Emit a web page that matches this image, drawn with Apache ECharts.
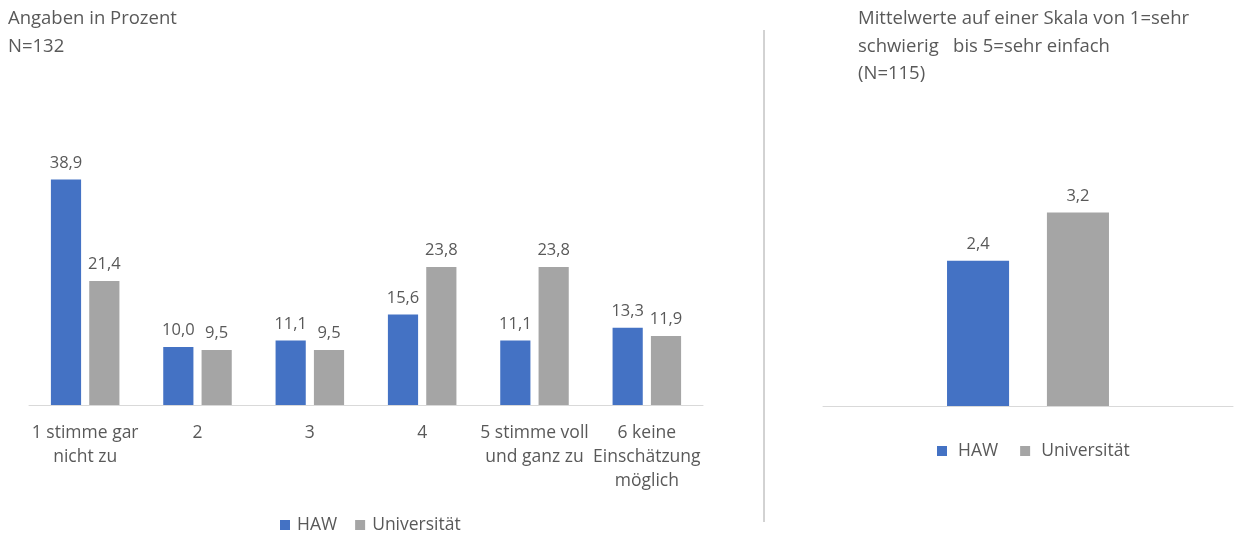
<!DOCTYPE html>
<html>
<head>
<meta charset="utf-8">
<script src="https://cdn.jsdelivr.net/npm/echarts@6/dist/echarts.min.js"></script>
<style>html,body{margin:0;padding:0;background:#fff}#c{width:1236px;height:536px}</style>
</head>
<body>
<div id="c"></div>
<script>
const categories = ["1 stimme gar\nnicht zu", "2", "3", "4", "5 stimme voll\nund ganz zu", "6 keine\nEinschätzung\nmöglich"];
const hawPercent = [38.9, 10.0, 11.1, 15.6, 11.1, 13.3];
const uniPercent = [21.4, 9.5, 9.5, 23.8, 23.8, 11.9];
const meanCategory = ["Mittelwert"];
const hawMean = [2.4];
const uniMean = [3.2];
const seriesNames = ["HAW", "Universität"];
const leftTitle = "Angaben in Prozent\nN=132";
const rightTitle = "Mittelwerte auf einer Skala von 1=sehr\nschwierig   bis 5=sehr einfach\n(N=115)";

const FONT = "Open Sans";
const TXT = "#595959";
const fmt = p => p.value.toFixed(1).replace('.', ',');
const lbl = {show: true, position: 'top', distance: 8, color: TXT, fontFamily: FONT, fontSize: 16.5, formatter: fmt};

const chart = echarts.init(document.getElementById('c'), null, {renderer: 'canvas'});
chart.setOption({
  animation: false,
  color: ['#4472C4', '#A5A5A5'],
  textStyle: {fontFamily: FONT, color: TXT},
  title: [
    {text: leftTitle, left: 3, top: 0, textStyle: {fontFamily: FONT, fontSize: 18.5, fontWeight: 'normal', color: TXT, lineHeight: 28}},
    {text: rightTitle, left: 853, top: 0, textStyle: {fontFamily: FONT, fontSize: 18.5, fontWeight: 'normal', color: TXT, lineHeight: 27.5}}
  ],
  legend: [
    {data: seriesNames, left: 275, top: 511, itemWidth: 10, itemHeight: 10, itemGap: 18, icon: 'rect',
     textStyle: {fontFamily: FONT, fontSize: 17.5, color: TXT, padding: [0, 0, 0, 2]}},
    {data: seriesNames, left: 932, top: 437, itemWidth: 10, itemHeight: 10, itemGap: 22, icon: 'rect',
     textStyle: {fontFamily: FONT, fontSize: 17.5, color: TXT, padding: [0, 0, 0, 6]}}
  ],
  grid: [
    {left: 29, width: 674, top: 144, bottom: 131},
    {left: 823, width: 410, top: 164, bottom: 130}
  ],
  xAxis: [
    {type: 'category', gridIndex: 0, data: categories,
     axisLine: {lineStyle: {color: '#D9D9D9', width: 1}}, axisTick: {show: false},
     axisLabel: {color: TXT, fontFamily: FONT, fontSize: 17.5, lineHeight: 24, margin: 16, interval: 0}},
    {type: 'category', gridIndex: 1, data: meanCategory,
     axisLine: {lineStyle: {color: '#D9D9D9', width: 1}}, axisTick: {show: false}, axisLabel: {show: false}}
  ],
  yAxis: [
    {type: 'value', gridIndex: 0, min: 0, max: 45, show: false, splitLine: {show: false}},
    {type: 'value', gridIndex: 1, min: 0, max: 4, show: false, splitLine: {show: false}}
  ],
  series: [
    {name: seriesNames[0], type: 'bar', xAxisIndex: 0, yAxisIndex: 0, data: hawPercent, barCategoryGap: '39%', barGap: '27%', label: lbl},
    {name: seriesNames[1], type: 'bar', xAxisIndex: 0, yAxisIndex: 0, data: uniPercent, barCategoryGap: '39%', barGap: '27%', label: lbl},
    {name: seriesNames[0], type: 'bar', xAxisIndex: 1, yAxisIndex: 1, data: hawMean, barCategoryGap: '60.5%', barGap: '61%', label: lbl},
    {name: seriesNames[1], type: 'bar', xAxisIndex: 1, yAxisIndex: 1, data: uniMean, barCategoryGap: '60.5%', barGap: '61%', label: lbl}
  ],
  graphic: [
    {type: 'line', shape: {x1: 764, y1: 30, x2: 764, y2: 522}, style: {stroke: '#A6A6A6', lineWidth: 1}}
  ]
});
</script>
</body>
</html>
